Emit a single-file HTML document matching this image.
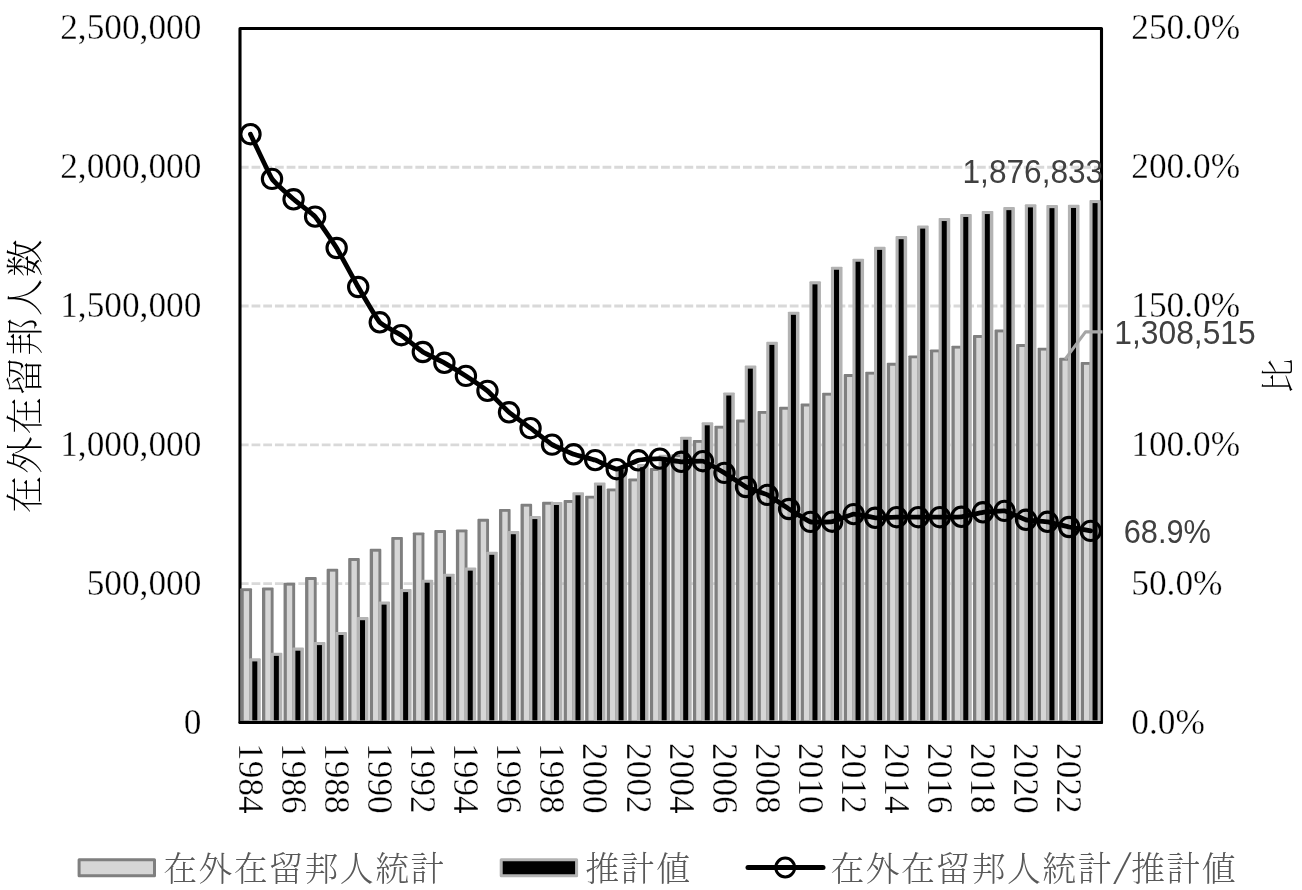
<!DOCTYPE html>
<html lang="ja"><head><meta charset="utf-8"><title>在外在留邦人数</title>
<style>
html,body{margin:0;padding:0;background:#fff;}
body{width:1302px;height:890px;overflow:hidden;}
svg{display:block;}
.tick{font-family:"Liberation Serif","Noto Serif CJK JP",serif;font-size:35.3px;fill:#000;stroke:#fff;stroke-width:0.35px;}
.lbl{font-family:"Liberation Sans","Noto Sans CJK JP",sans-serif;font-size:32.9px;fill:#404040;}
.leg{font-family:"Liberation Serif","Noto Serif CJK JP","Noto Serif CJK SC",serif;font-size:33.8px;letter-spacing:1.53px;fill:#595959;font-weight:300;}
.tit{font-family:"Liberation Serif","Noto Serif CJK JP","Noto Serif CJK SC",serif;font-size:37.6px;letter-spacing:1.8px;fill:#000;font-weight:200;}
</style></head><body>
<svg width="1302" height="890" viewBox="0 0 1302 890">
<rect x="0" y="0" width="1302" height="890" fill="#ffffff"/>
<g stroke="#d9d9d9" stroke-width="2.9" stroke-dasharray="8.78 2.92" fill="none">
<line x1="239.85" y1="583.62" x2="1101.50" y2="583.62"/>
<line x1="239.85" y1="444.84" x2="1101.50" y2="444.84"/>
<line x1="239.85" y1="306.06" x2="1101.50" y2="306.06"/>
<line x1="239.85" y1="167.28" x2="1101.50" y2="167.28"/>
</g>
<rect x="240.00" y="28.50" width="861.50" height="693.90" fill="none" stroke="#000" stroke-width="3.1" stroke-linejoin="round"/>
<g>
<rect x="240.15" y="588.23" width="11.90" height="135.17" rx="0.9" fill="#7f7f7f"/>
<rect x="243.75" y="591.13" width="5.40" height="129.32" fill="#d6d6d6"/>
<rect x="262.00" y="587.52" width="11.60" height="135.88" rx="0.9" fill="#7f7f7f"/>
<rect x="265.30" y="590.42" width="5.40" height="130.03" fill="#d6d6d6"/>
<rect x="283.54" y="582.73" width="11.60" height="140.67" rx="0.9" fill="#7f7f7f"/>
<rect x="286.84" y="585.63" width="5.40" height="134.82" fill="#d6d6d6"/>
<rect x="305.09" y="577.09" width="11.60" height="146.31" rx="0.9" fill="#7f7f7f"/>
<rect x="308.38" y="579.99" width="5.40" height="140.46" fill="#d6d6d6"/>
<rect x="326.63" y="568.73" width="11.60" height="154.67" rx="0.9" fill="#7f7f7f"/>
<rect x="329.93" y="571.63" width="5.40" height="148.82" fill="#d6d6d6"/>
<rect x="348.18" y="558.07" width="11.60" height="165.33" rx="0.9" fill="#7f7f7f"/>
<rect x="351.47" y="560.97" width="5.40" height="159.48" fill="#d6d6d6"/>
<rect x="369.72" y="548.81" width="11.60" height="174.59" rx="0.9" fill="#7f7f7f"/>
<rect x="373.02" y="551.71" width="5.40" height="168.74" fill="#d6d6d6"/>
<rect x="391.27" y="536.91" width="11.60" height="186.49" rx="0.9" fill="#7f7f7f"/>
<rect x="394.56" y="539.81" width="5.40" height="180.64" fill="#d6d6d6"/>
<rect x="412.81" y="532.38" width="11.60" height="191.02" rx="0.9" fill="#7f7f7f"/>
<rect x="416.11" y="535.28" width="5.40" height="185.17" fill="#d6d6d6"/>
<rect x="434.36" y="530.11" width="11.60" height="193.29" rx="0.9" fill="#7f7f7f"/>
<rect x="437.65" y="533.01" width="5.40" height="187.44" fill="#d6d6d6"/>
<rect x="455.90" y="529.46" width="11.60" height="193.94" rx="0.9" fill="#7f7f7f"/>
<rect x="459.20" y="532.36" width="5.40" height="188.09" fill="#d6d6d6"/>
<rect x="477.44" y="518.81" width="11.60" height="204.59" rx="0.9" fill="#7f7f7f"/>
<rect x="480.74" y="521.71" width="5.40" height="198.74" fill="#d6d6d6"/>
<rect x="498.99" y="508.90" width="11.60" height="214.50" rx="0.9" fill="#7f7f7f"/>
<rect x="502.29" y="511.80" width="5.40" height="208.65" fill="#d6d6d6"/>
<rect x="520.53" y="503.74" width="11.60" height="219.66" rx="0.9" fill="#7f7f7f"/>
<rect x="523.84" y="506.64" width="5.40" height="213.81" fill="#d6d6d6"/>
<rect x="542.08" y="501.81" width="11.60" height="221.59" rx="0.9" fill="#7f7f7f"/>
<rect x="545.38" y="504.71" width="5.40" height="215.74" fill="#d6d6d6"/>
<rect x="563.62" y="500.05" width="11.60" height="223.35" rx="0.9" fill="#7f7f7f"/>
<rect x="566.93" y="502.95" width="5.40" height="217.50" fill="#d6d6d6"/>
<rect x="585.17" y="495.65" width="11.60" height="227.75" rx="0.9" fill="#7f7f7f"/>
<rect x="588.47" y="498.55" width="5.40" height="221.90" fill="#d6d6d6"/>
<rect x="606.71" y="488.43" width="11.60" height="234.97" rx="0.9" fill="#7f7f7f"/>
<rect x="610.01" y="491.33" width="5.40" height="229.12" fill="#d6d6d6"/>
<rect x="628.26" y="478.46" width="11.60" height="244.94" rx="0.9" fill="#7f7f7f"/>
<rect x="631.56" y="481.36" width="5.40" height="239.09" fill="#d6d6d6"/>
<rect x="649.80" y="468.08" width="11.60" height="255.32" rx="0.9" fill="#7f7f7f"/>
<rect x="653.11" y="470.98" width="5.40" height="249.47" fill="#d6d6d6"/>
<rect x="671.35" y="454.13" width="11.60" height="269.27" rx="0.9" fill="#7f7f7f"/>
<rect x="674.65" y="457.03" width="5.40" height="263.42" fill="#d6d6d6"/>
<rect x="692.89" y="439.91" width="11.60" height="283.49" rx="0.9" fill="#7f7f7f"/>
<rect x="696.20" y="442.81" width="5.40" height="277.64" fill="#d6d6d6"/>
<rect x="714.44" y="425.71" width="11.60" height="297.69" rx="0.9" fill="#7f7f7f"/>
<rect x="717.74" y="428.61" width="5.40" height="291.84" fill="#d6d6d6"/>
<rect x="735.98" y="419.61" width="11.60" height="303.79" rx="0.9" fill="#7f7f7f"/>
<rect x="739.28" y="422.51" width="5.40" height="297.94" fill="#d6d6d6"/>
<rect x="757.53" y="410.92" width="11.60" height="312.48" rx="0.9" fill="#7f7f7f"/>
<rect x="760.83" y="413.82" width="5.40" height="306.63" fill="#d6d6d6"/>
<rect x="779.08" y="406.81" width="11.60" height="316.59" rx="0.9" fill="#7f7f7f"/>
<rect x="782.38" y="409.71" width="5.40" height="310.74" fill="#d6d6d6"/>
<rect x="800.62" y="403.60" width="11.60" height="319.80" rx="0.9" fill="#7f7f7f"/>
<rect x="803.92" y="406.50" width="5.40" height="313.95" fill="#d6d6d6"/>
<rect x="822.16" y="392.72" width="11.60" height="330.68" rx="0.9" fill="#7f7f7f"/>
<rect x="825.47" y="395.62" width="5.40" height="324.83" fill="#d6d6d6"/>
<rect x="843.71" y="374.12" width="11.60" height="349.28" rx="0.9" fill="#7f7f7f"/>
<rect x="847.01" y="377.02" width="5.40" height="343.43" fill="#d6d6d6"/>
<rect x="865.25" y="371.71" width="11.60" height="351.69" rx="0.9" fill="#7f7f7f"/>
<rect x="868.55" y="374.61" width="5.40" height="345.84" fill="#d6d6d6"/>
<rect x="886.80" y="362.85" width="11.60" height="360.55" rx="0.9" fill="#7f7f7f"/>
<rect x="890.10" y="365.75" width="5.40" height="354.70" fill="#d6d6d6"/>
<rect x="908.35" y="355.38" width="11.60" height="368.02" rx="0.9" fill="#7f7f7f"/>
<rect x="911.65" y="358.28" width="5.40" height="362.17" fill="#d6d6d6"/>
<rect x="929.89" y="349.44" width="11.60" height="373.96" rx="0.9" fill="#7f7f7f"/>
<rect x="933.19" y="352.34" width="5.40" height="368.11" fill="#d6d6d6"/>
<rect x="951.43" y="345.70" width="11.60" height="377.70" rx="0.9" fill="#7f7f7f"/>
<rect x="954.74" y="348.60" width="5.40" height="371.85" fill="#d6d6d6"/>
<rect x="972.98" y="335.04" width="11.60" height="388.36" rx="0.9" fill="#7f7f7f"/>
<rect x="976.28" y="337.94" width="5.40" height="382.51" fill="#d6d6d6"/>
<rect x="994.52" y="329.49" width="11.60" height="393.91" rx="0.9" fill="#7f7f7f"/>
<rect x="997.82" y="332.39" width="5.40" height="388.06" fill="#d6d6d6"/>
<rect x="1016.07" y="344.10" width="11.60" height="379.30" rx="0.9" fill="#7f7f7f"/>
<rect x="1019.37" y="347.00" width="5.40" height="373.45" fill="#d6d6d6"/>
<rect x="1037.61" y="347.66" width="11.60" height="375.74" rx="0.9" fill="#7f7f7f"/>
<rect x="1040.91" y="350.56" width="5.40" height="369.89" fill="#d6d6d6"/>
<rect x="1059.16" y="357.76" width="11.60" height="365.64" rx="0.9" fill="#7f7f7f"/>
<rect x="1062.46" y="360.66" width="5.40" height="359.79" fill="#d6d6d6"/>
<rect x="1080.70" y="361.91" width="11.60" height="361.49" rx="0.9" fill="#7f7f7f"/>
<rect x="1084.00" y="364.81" width="5.40" height="355.64" fill="#d6d6d6"/>
</g>
<g>
<rect x="249.20" y="658.32" width="11.60" height="65.08" rx="0.9" fill="#b3b3b3"/>
<rect x="252.30" y="661.42" width="5.00" height="58.93" fill="#000000"/>
<rect x="270.75" y="652.80" width="11.60" height="70.60" rx="0.9" fill="#b3b3b3"/>
<rect x="273.85" y="655.90" width="5.00" height="64.45" fill="#000000"/>
<rect x="292.29" y="647.61" width="11.60" height="75.79" rx="0.9" fill="#b3b3b3"/>
<rect x="295.39" y="650.71" width="5.00" height="69.64" fill="#000000"/>
<rect x="313.83" y="642.00" width="11.60" height="81.40" rx="0.9" fill="#b3b3b3"/>
<rect x="316.94" y="645.10" width="5.00" height="75.25" fill="#000000"/>
<rect x="335.38" y="631.89" width="11.60" height="91.51" rx="0.9" fill="#b3b3b3"/>
<rect x="338.48" y="634.99" width="5.00" height="85.36" fill="#000000"/>
<rect x="356.92" y="617.11" width="11.60" height="106.29" rx="0.9" fill="#b3b3b3"/>
<rect x="360.02" y="620.21" width="5.00" height="100.14" fill="#000000"/>
<rect x="378.47" y="601.52" width="11.60" height="121.88" rx="0.9" fill="#b3b3b3"/>
<rect x="381.57" y="604.62" width="5.00" height="115.73" fill="#000000"/>
<rect x="400.01" y="589.01" width="11.60" height="134.39" rx="0.9" fill="#b3b3b3"/>
<rect x="403.12" y="592.11" width="5.00" height="128.24" fill="#000000"/>
<rect x="421.56" y="579.63" width="11.60" height="143.77" rx="0.9" fill="#b3b3b3"/>
<rect x="424.66" y="582.73" width="5.00" height="137.62" fill="#000000"/>
<rect x="443.10" y="573.63" width="11.60" height="149.77" rx="0.9" fill="#b3b3b3"/>
<rect x="446.20" y="576.73" width="5.00" height="143.62" fill="#000000"/>
<rect x="464.65" y="567.54" width="11.60" height="155.86" rx="0.9" fill="#b3b3b3"/>
<rect x="467.75" y="570.64" width="5.00" height="149.71" fill="#000000"/>
<rect x="486.19" y="551.70" width="11.60" height="171.70" rx="0.9" fill="#b3b3b3"/>
<rect x="489.29" y="554.80" width="5.00" height="165.55" fill="#000000"/>
<rect x="507.74" y="531.12" width="11.60" height="192.28" rx="0.9" fill="#b3b3b3"/>
<rect x="510.84" y="534.22" width="5.00" height="186.13" fill="#000000"/>
<rect x="529.29" y="515.99" width="11.60" height="207.41" rx="0.9" fill="#b3b3b3"/>
<rect x="532.38" y="519.09" width="5.00" height="201.26" fill="#000000"/>
<rect x="550.83" y="501.91" width="11.60" height="221.49" rx="0.9" fill="#b3b3b3"/>
<rect x="553.93" y="505.01" width="5.00" height="215.34" fill="#000000"/>
<rect x="572.38" y="492.21" width="11.60" height="231.19" rx="0.9" fill="#b3b3b3"/>
<rect x="575.48" y="495.31" width="5.00" height="225.04" fill="#000000"/>
<rect x="593.92" y="482.49" width="11.60" height="240.91" rx="0.9" fill="#b3b3b3"/>
<rect x="597.02" y="485.59" width="5.00" height="234.76" fill="#000000"/>
<rect x="615.47" y="465.99" width="11.60" height="257.41" rx="0.9" fill="#b3b3b3"/>
<rect x="618.56" y="469.09" width="5.00" height="251.26" fill="#000000"/>
<rect x="637.01" y="464.10" width="11.60" height="259.30" rx="0.9" fill="#b3b3b3"/>
<rect x="640.11" y="467.20" width="5.00" height="253.15" fill="#000000"/>
<rect x="658.56" y="454.82" width="11.60" height="268.58" rx="0.9" fill="#b3b3b3"/>
<rect x="661.65" y="457.92" width="5.00" height="262.43" fill="#000000"/>
<rect x="680.10" y="436.70" width="11.60" height="286.70" rx="0.9" fill="#b3b3b3"/>
<rect x="683.20" y="439.80" width="5.00" height="280.55" fill="#000000"/>
<rect x="701.65" y="422.23" width="11.60" height="301.17" rx="0.9" fill="#b3b3b3"/>
<rect x="704.75" y="425.33" width="5.00" height="295.02" fill="#000000"/>
<rect x="723.19" y="392.42" width="11.60" height="330.98" rx="0.9" fill="#b3b3b3"/>
<rect x="726.29" y="395.52" width="5.00" height="324.83" fill="#000000"/>
<rect x="744.74" y="365.54" width="11.60" height="357.86" rx="0.9" fill="#b3b3b3"/>
<rect x="747.83" y="368.64" width="5.00" height="351.71" fill="#000000"/>
<rect x="766.28" y="341.78" width="11.60" height="381.62" rx="0.9" fill="#b3b3b3"/>
<rect x="769.38" y="344.88" width="5.00" height="375.47" fill="#000000"/>
<rect x="787.83" y="311.72" width="11.60" height="411.68" rx="0.9" fill="#b3b3b3"/>
<rect x="790.93" y="314.82" width="5.00" height="405.53" fill="#000000"/>
<rect x="809.37" y="281.27" width="11.60" height="442.13" rx="0.9" fill="#b3b3b3"/>
<rect x="812.47" y="284.37" width="5.00" height="435.98" fill="#000000"/>
<rect x="830.92" y="266.66" width="11.60" height="456.74" rx="0.9" fill="#b3b3b3"/>
<rect x="834.01" y="269.76" width="5.00" height="450.59" fill="#000000"/>
<rect x="852.46" y="258.64" width="11.60" height="464.76" rx="0.9" fill="#b3b3b3"/>
<rect x="855.56" y="261.74" width="5.00" height="458.61" fill="#000000"/>
<rect x="874.00" y="246.80" width="11.60" height="476.60" rx="0.9" fill="#b3b3b3"/>
<rect x="877.10" y="249.90" width="5.00" height="470.45" fill="#000000"/>
<rect x="895.55" y="236.10" width="11.60" height="487.30" rx="0.9" fill="#b3b3b3"/>
<rect x="898.65" y="239.20" width="5.00" height="481.15" fill="#000000"/>
<rect x="917.10" y="225.50" width="11.60" height="497.90" rx="0.9" fill="#b3b3b3"/>
<rect x="920.20" y="228.60" width="5.00" height="491.75" fill="#000000"/>
<rect x="938.64" y="217.96" width="11.60" height="505.44" rx="0.9" fill="#b3b3b3"/>
<rect x="941.74" y="221.06" width="5.00" height="499.29" fill="#000000"/>
<rect x="960.19" y="213.89" width="11.60" height="509.51" rx="0.9" fill="#b3b3b3"/>
<rect x="963.28" y="216.99" width="5.00" height="503.36" fill="#000000"/>
<rect x="981.73" y="210.96" width="11.60" height="512.44" rx="0.9" fill="#b3b3b3"/>
<rect x="984.83" y="214.06" width="5.00" height="506.29" fill="#000000"/>
<rect x="1003.27" y="207.05" width="11.60" height="516.35" rx="0.9" fill="#b3b3b3"/>
<rect x="1006.37" y="210.15" width="5.00" height="510.20" fill="#000000"/>
<rect x="1024.82" y="204.29" width="11.60" height="519.11" rx="0.9" fill="#b3b3b3"/>
<rect x="1027.92" y="207.39" width="5.00" height="512.96" fill="#000000"/>
<rect x="1046.37" y="205.06" width="11.60" height="518.34" rx="0.9" fill="#b3b3b3"/>
<rect x="1049.46" y="208.16" width="5.00" height="512.19" fill="#000000"/>
<rect x="1067.91" y="204.86" width="11.60" height="518.54" rx="0.9" fill="#b3b3b3"/>
<rect x="1071.01" y="207.96" width="5.00" height="512.39" fill="#000000"/>
<rect x="1089.45" y="200.02" width="11.20" height="523.38" rx="0.9" fill="#b3b3b3"/>
<rect x="1092.55" y="203.12" width="5.00" height="517.23" fill="#000000"/>
</g>
<line x1="240.00" y1="722.40" x2="1101.50" y2="722.40" stroke="#000" stroke-width="3" stroke-linecap="round"/>
<path d="M250.47 134.20 C251.55 136.44 269.86 175.65 272.02 178.90 C274.17 182.16 291.41 197.42 293.56 199.30 C295.72 201.19 312.95 214.16 315.11 216.60 C317.26 219.03 334.50 244.48 336.65 248.00 C338.81 251.52 356.04 283.29 358.20 287.00 C360.35 290.71 377.59 319.89 379.74 322.30 C381.90 324.71 399.13 333.71 401.29 335.20 C403.44 336.69 420.68 350.62 422.83 352.00 C424.99 353.38 442.22 361.61 444.38 362.80 C446.53 364.00 463.77 374.50 465.92 375.90 C468.08 377.30 485.31 389.03 487.47 390.85 C489.62 392.67 506.86 410.43 509.01 412.30 C511.17 414.17 528.40 426.58 530.56 428.20 C532.71 429.82 549.95 443.34 552.10 444.65 C554.26 445.95 571.49 453.53 573.65 454.30 C575.80 455.07 593.04 459.36 595.19 460.10 C597.35 460.85 614.58 469.19 616.74 469.20 C618.89 469.21 636.13 460.83 638.28 460.30 C640.44 459.77 657.67 458.53 659.83 458.60 C661.98 458.68 679.22 461.67 681.37 461.80 C683.53 461.93 700.76 460.64 702.92 461.20 C705.07 461.75 722.31 471.61 724.46 472.90 C726.62 474.19 743.85 485.90 746.01 487.00 C748.16 488.10 765.40 493.80 767.55 494.90 C769.71 496.00 786.94 507.65 789.10 509.00 C791.25 510.35 808.49 521.26 810.64 521.90 C812.80 522.53 830.03 522.09 832.19 521.70 C834.34 521.31 851.58 514.30 853.73 514.10 C855.89 513.90 873.12 517.64 875.28 517.80 C877.43 517.95 894.67 517.23 896.82 517.20 C898.98 517.17 916.21 517.20 918.37 517.20 C920.52 517.20 937.76 517.22 939.91 517.20 C942.07 517.18 959.30 517.04 961.46 516.80 C963.61 516.55 980.85 512.59 983.00 512.30 C985.16 512.00 1002.39 510.52 1004.55 510.90 C1006.70 511.27 1023.94 519.25 1026.09 519.80 C1028.25 520.34 1045.48 521.44 1047.64 521.80 C1049.79 522.16 1067.03 526.54 1069.18 527.00 C1071.34 527.46 1089.65 530.70 1090.73 530.90" fill="none" stroke="#000" stroke-width="4.8" stroke-linecap="round" stroke-linejoin="round"/>
<g fill="none" stroke="#000" stroke-width="3.1">
<circle cx="250.47" cy="134.20" r="9.65"/>
<circle cx="272.02" cy="178.90" r="9.65"/>
<circle cx="293.56" cy="199.30" r="9.65"/>
<circle cx="315.11" cy="216.60" r="9.65"/>
<circle cx="336.65" cy="248.00" r="9.65"/>
<circle cx="358.20" cy="287.00" r="9.65"/>
<circle cx="379.74" cy="322.30" r="9.65"/>
<circle cx="401.29" cy="335.20" r="9.65"/>
<circle cx="422.83" cy="352.00" r="9.65"/>
<circle cx="444.38" cy="362.80" r="9.65"/>
<circle cx="465.92" cy="375.90" r="9.65"/>
<circle cx="487.47" cy="390.85" r="9.65"/>
<circle cx="509.01" cy="412.30" r="9.65"/>
<circle cx="530.56" cy="428.20" r="9.65"/>
<circle cx="552.10" cy="444.65" r="9.65"/>
<circle cx="573.65" cy="454.30" r="9.65"/>
<circle cx="595.19" cy="460.10" r="9.65"/>
<circle cx="616.74" cy="469.20" r="9.65"/>
<circle cx="638.28" cy="460.30" r="9.65"/>
<circle cx="659.83" cy="458.60" r="9.65"/>
<circle cx="681.37" cy="461.80" r="9.65"/>
<circle cx="702.92" cy="461.20" r="9.65"/>
<circle cx="724.46" cy="472.90" r="9.65"/>
<circle cx="746.01" cy="487.00" r="9.65"/>
<circle cx="767.55" cy="494.90" r="9.65"/>
<circle cx="789.10" cy="509.00" r="9.65"/>
<circle cx="810.64" cy="521.90" r="9.65"/>
<circle cx="832.19" cy="521.70" r="9.65"/>
<circle cx="853.73" cy="514.10" r="9.65"/>
<circle cx="875.28" cy="517.80" r="9.65"/>
<circle cx="896.82" cy="517.20" r="9.65"/>
<circle cx="918.37" cy="517.20" r="9.65"/>
<circle cx="939.91" cy="517.20" r="9.65"/>
<circle cx="961.46" cy="516.80" r="9.65"/>
<circle cx="983.00" cy="512.30" r="9.65"/>
<circle cx="1004.55" cy="510.90" r="9.65"/>
<circle cx="1026.09" cy="519.80" r="9.65"/>
<circle cx="1047.64" cy="521.80" r="9.65"/>
<circle cx="1069.18" cy="527.00" r="9.65"/>
<circle cx="1090.73" cy="530.90" r="9.65"/>
</g>
<polyline points="1065.2,359.2 1085.5,331.9 1102.5,331.9" fill="none" stroke="#a6a6a6" stroke-width="3.1" stroke-linejoin="round"/>
<text class="tick" x="201.4" y="734.00" text-anchor="end">0</text>
<text class="tick" x="201.4" y="594.59" text-anchor="end">500,000</text>
<text class="tick" x="201.4" y="455.59" text-anchor="end">1,000,000</text>
<text class="tick" x="201.4" y="316.71" text-anchor="end">1,500,000</text>
<text class="tick" x="201.4" y="177.68" text-anchor="end">2,000,000</text>
<text class="tick" x="201.4" y="39.00" text-anchor="end">2,500,000</text>
<text class="tick" x="1131.3" y="734.00">0.0%</text>
<text class="tick" x="1131.3" y="594.59">50.0%</text>
<text class="tick" x="1131.3" y="455.59">100.0%</text>
<text class="tick" x="1131.3" y="316.71">150.0%</text>
<text class="tick" x="1131.3" y="177.68">200.0%</text>
<text class="tick" x="1131.3" y="39.00">250.0%</text>
<text class="tick" transform="translate(238.77 743.1) rotate(90)" x="0" y="0">1984</text>
<text class="tick" transform="translate(281.86 743.1) rotate(90)" x="0" y="0">1986</text>
<text class="tick" transform="translate(324.95 743.1) rotate(90)" x="0" y="0">1988</text>
<text class="tick" transform="translate(368.04 743.1) rotate(90)" x="0" y="0">1990</text>
<text class="tick" transform="translate(411.13 743.1) rotate(90)" x="0" y="0">1992</text>
<text class="tick" transform="translate(454.22 743.1) rotate(90)" x="0" y="0">1994</text>
<text class="tick" transform="translate(497.31 743.1) rotate(90)" x="0" y="0">1996</text>
<text class="tick" transform="translate(540.40 743.1) rotate(90)" x="0" y="0">1998</text>
<text class="tick" transform="translate(583.49 743.1) rotate(90)" x="0" y="0">2000</text>
<text class="tick" transform="translate(626.58 743.1) rotate(90)" x="0" y="0">2002</text>
<text class="tick" transform="translate(669.67 743.1) rotate(90)" x="0" y="0">2004</text>
<text class="tick" transform="translate(712.76 743.1) rotate(90)" x="0" y="0">2006</text>
<text class="tick" transform="translate(755.85 743.1) rotate(90)" x="0" y="0">2008</text>
<text class="tick" transform="translate(798.94 743.1) rotate(90)" x="0" y="0">2010</text>
<text class="tick" transform="translate(842.03 743.1) rotate(90)" x="0" y="0">2012</text>
<text class="tick" transform="translate(885.12 743.1) rotate(90)" x="0" y="0">2014</text>
<text class="tick" transform="translate(928.21 743.1) rotate(90)" x="0" y="0">2016</text>
<text class="tick" transform="translate(971.30 743.1) rotate(90)" x="0" y="0">2018</text>
<text class="tick" transform="translate(1014.39 743.1) rotate(90)" x="0" y="0">2020</text>
<text class="tick" transform="translate(1057.48 743.1) rotate(90)" x="0" y="0">2022</text>
<text class="lbl" x="962.5" y="183.3" textLength="140.7" lengthAdjust="spacingAndGlyphs">1,876,833</text>
<text class="lbl" x="1114.3" y="344.3" textLength="141.4" lengthAdjust="spacingAndGlyphs">1,308,515</text>
<text class="lbl" x="1123.7" y="543.2" textLength="87.2" lengthAdjust="spacingAndGlyphs">68.9%</text>
<text class="tit" transform="translate(38.3 375.4) rotate(-90)" text-anchor="middle">在外在留邦人数</text>
<text class="tit" transform="translate(1290.3 375.6) rotate(-90)" text-anchor="middle" style="font-size:34px;letter-spacing:0">比</text>
<rect x="79.1" y="859.8" width="75.4" height="15.9" fill="#d6d6d6" stroke="#7f7f7f" stroke-width="3" stroke-linejoin="round"/>
<text class="leg" x="163.2" y="881.3">在外在留邦人統計</text>
<rect x="501.2" y="859.8" width="75.4" height="15.9" fill="#000" stroke="#b3b3b3" stroke-width="3" stroke-linejoin="round"/>
<text class="leg" x="585.5" y="881.3">推計値</text>
<line x1="748" y1="867.5" x2="823" y2="867.5" stroke="#000" stroke-width="5" stroke-linecap="round"/>
<circle cx="785.2" cy="867.5" r="9.4" fill="none" stroke="#000" stroke-width="3"/>
<text class="leg" x="830.4" y="881.3">在外在留邦人統計<tspan x="1113.0" y="877.6" textLength="18.9" lengthAdjust="spacingAndGlyphs" style="letter-spacing:0;font-size:34px;font-weight:200;font-family:'Noto Serif CJK JP','Noto Serif CJK SC','Liberation Serif',serif">/</tspan><tspan x="1131.2" y="881.3">推計値</tspan></text>
</svg>
</body></html>
